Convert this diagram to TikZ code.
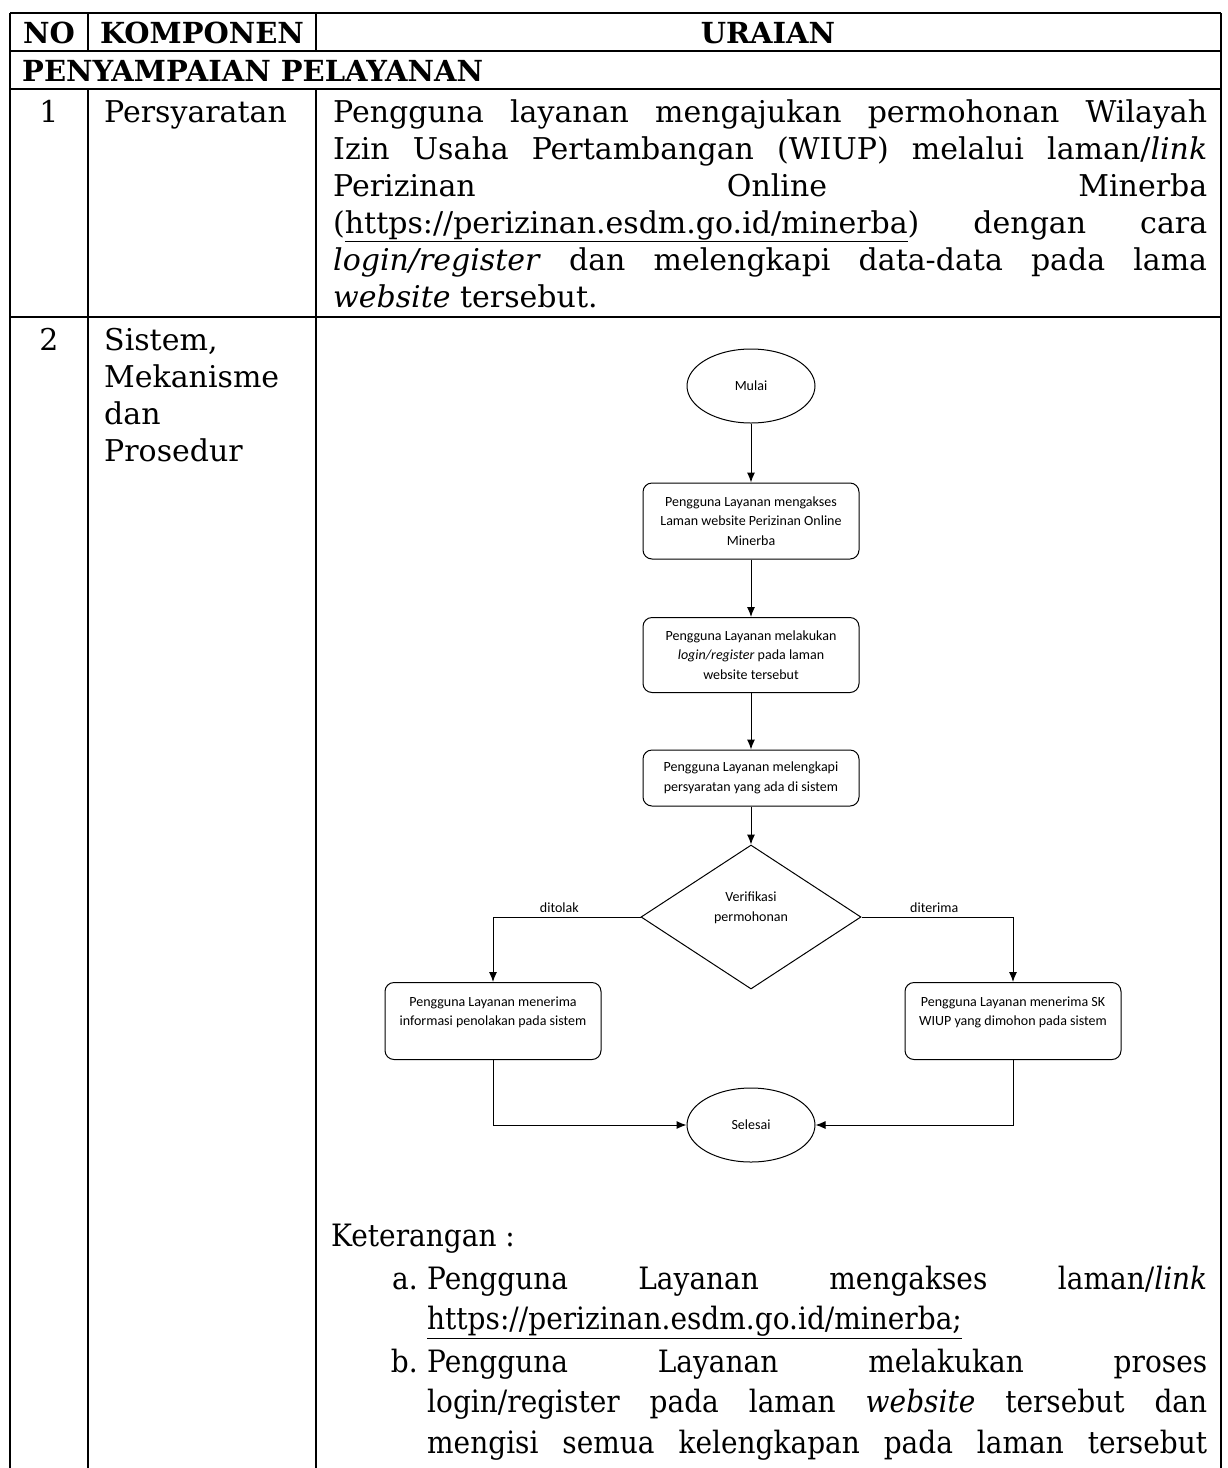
\documentclass[tikz,border=0pt]{standalone}
\usepackage{fontspec}
\setmainfont{DejaVu Serif}
\newfontfamily\flowfont{Carlito}
\usetikzlibrary{shapes.geometric, arrows.meta}

\tikzset{
  tbl/.style={line width=2pt},
  cell/.style={inner sep=0pt, font=\fontsize{30}{37}\selectfont},
  hdr/.style={inner sep=0pt, font=\fontsize{29}{37}\selectfont\bfseries},
  ketbox/.style={inner sep=0pt, font=\fontsize{28}{37}\selectfont, yscale=1.1, transform shape},
  flowtxt/.style={font=\flowfont\fontsize{14}{19.5}\selectfont},
  term/.style={ellipse, draw, line width=1pt, minimum width=128pt, minimum height=74pt, flowtxt},
  procbox/.style={rectangle, rounded corners=9pt, draw, line width=1pt, minimum width=216pt, align=center, flowtxt},
  decision/.style={diamond, draw, line width=1pt, minimum width=220pt, minimum height=144pt, inner sep=0pt, align=center, flowtxt},
  flow/.style={line width=1pt, -{Latex[length=10pt,width=8pt]}},
  flowlbl/.style={above, inner sep=4pt, flowtxt}
}

\begin{document}
\begin{tikzpicture}[x=1pt, y={(0,-1pt)}]
	\useasboundingbox[fill=white] (0,0) rectangle (1228,1468);
	
	% tabel
	\draw[tbl] (10,13) -- (1221,13);
	\draw[tbl] (10,51) -- (1221,51);
	\draw[tbl] (10,89) -- (1221,89);
	\draw[tbl] (10,317) -- (1221,317);
	\draw[tbl] (10,13) -- (10,1468);
	\draw[tbl] (1221,13) -- (1221,1468);
	\draw[tbl] (88,13) -- (88,51);
	\draw[tbl] (88,89) -- (88,1468);
	\draw[tbl] (316,13) -- (316,51);
	\draw[tbl] (316,89) -- (316,1468);
	
	\node[hdr] (no) at (49,33) {NO};
	\node[hdr] (komponen) at (202,33) {KOMPONEN};
	\node[hdr] (uraian) at (768,33) {URAIAN};
	\node[hdr, anchor=base west] (bagian) at (22,81) {PENYAMPAIAN PELAYANAN};
	
	% baris 1
	\node[cell, anchor=base] (nosatu) at (49,122) {1};
	\node[cell, anchor=base west] (syarat) at (104,122) {Persyaratan};
	\node[cell, anchor=base west, text width=874pt, align=justify] (syarattxt) at (333,122)
		{Pengguna layanan mengajukan permohonan Wilayah\linebreak
		Izin Usaha Pertambangan (WIUP) melalui laman/\textit{link}\linebreak
		Perizinan Online Minerba\linebreak
		(\underline{https://perizinan.esdm.go.id/minerba}) dengan cara\linebreak
		\textit{login/register} dan melengkapi data-data pada lama\linebreak
		\textit{website} tersebut.};
	
	% baris 2
	\node[cell, anchor=base] (nodua) at (49,350) {2};
	\node[cell, anchor=base west, text width=205pt, align=left] (sistem) at (104,350)
		{Sistem,\\Mekanisme\\dan\\Prosedur};
	
	% flowchart
	\node[term] (mulai) at (751,386) {Mulai};
	\node[procbox, minimum height=76pt] (akses) at (751,521)
		{Pengguna Layanan mengakses\\Laman website Perizinan Online\\Minerba};
	\node[procbox, minimum height=75pt] (login) at (751,655)
		{Pengguna Layanan melakukan\\\textit{login/register} pada laman\\website tersebut};
	\node[procbox, minimum height=56pt] (lengkap) at (751,778)
		{Pengguna Layanan melengkapi\\persyaratan yang ada di sistem};
	\node[decision] (verif) at (751,917) {Verifikasi\\permohonan\\[1pt]};
	\node[procbox, minimum height=77pt] (tolak) at (493,1021)
		{Pengguna Layanan menerima\\informasi penolakan pada sistem\\~};
	\node[procbox, minimum height=77pt] (terima) at (1013,1021)
		{Pengguna Layanan menerima SK\\WIUP yang dimohon pada sistem\\~};
	\node[term] (selesai) at (751,1125) {Selesai};
	
	\draw[flow] (mulai) -- (akses);
	\draw[flow] (akses) -- (login);
	\draw[flow] (login) -- (lengkap);
	\draw[flow] (lengkap) -- (verif);
	\draw[flow] (verif.west) -| node[flowlbl, pos=0.275] {ditolak} (tolak.north);
	\draw[flow] (verif.east) -| node[flowlbl, pos=0.24] {diterima} (terima.north);
	\draw[flow] (tolak.south) |- (selesai.west);
	\draw[flow] (terima.south) |- (selesai.east);
	
	% keterangan
	\node[ketbox, anchor=base west] (ket) at (331,1246) {Keterangan :};
	\node[ketbox, anchor=base east] (itema) at (418,1289) {a.};
	\node[ketbox, anchor=base west, text width=780pt, align=justify] (teksa) at (427,1289)
		{Pengguna Layanan mengakses laman/\textit{link}\linebreak
		\underline{https://perizinan.esdm.go.id/minerba;}};
	\node[ketbox, anchor=base east] (itemb) at (418,1372) {b.};
	\node[ketbox, anchor=base west, text width=780pt, align=justify] (teksb) at (427,1372)
		{\parfillskip=0pt Pengguna Layanan melakukan proses\linebreak
		login/register pada laman \textit{website} tersebut dan\linebreak
		mengisi semua kelengkapan pada laman tersebut\par};
\end{tikzpicture}
\end{document}
